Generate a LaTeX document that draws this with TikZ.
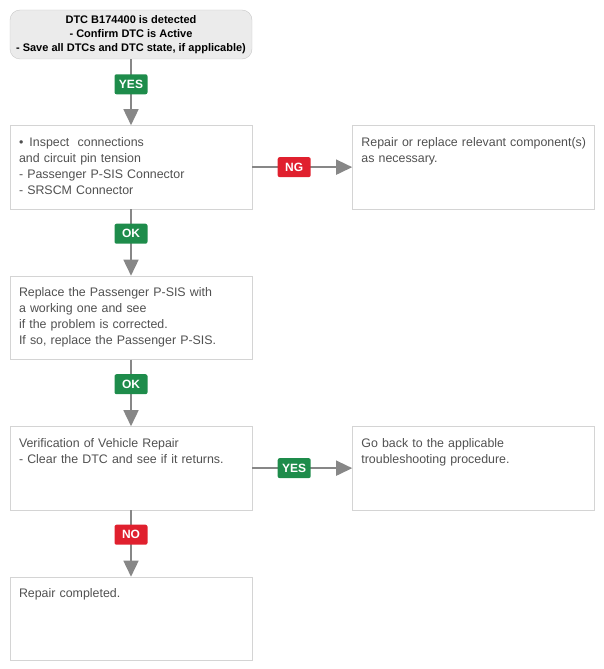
\documentclass[tikz,border=0pt]{standalone}
\usepackage{fontspec}
\setmainfont{Liberation Sans}
\usepackage{tikz}
\usetikzlibrary{positioning, arrows.meta}
\definecolor{startfill}{HTML}{EBEBEB}
\definecolor{startline}{HTML}{C8C8C8}
\definecolor{boxline}{HTML}{D4D4D4}
\definecolor{boxtext}{HTML}{505050}
\definecolor{arrowgray}{HTML}{878787}
\definecolor{passgreen}{HTML}{1E8C4B}
\definecolor{failred}{HTML}{E0202E}
\tikzstyle{startstop} = [rectangle, rounded corners=10pt, minimum width=242pt, minimum height=49pt, inner sep=0pt, align=center, fill=startfill, draw=startline, font=\bfseries\fontsize{11}{14}\selectfont]
\tikzstyle{process} = [rectangle, text width=224pt, inner xsep=9pt, inner ysep=5pt, text height=16pt, text depth=57.5pt, align=left, draw=boxline, text=boxtext, font=\fontsize{12.4}{16}\selectfont]
\tikzstyle{passtag} = [rectangle, rounded corners=2pt, fill=passgreen, text=white, minimum width=33pt, minimum height=20pt, inner sep=0pt, font=\bfseries\fontsize{12}{12}\selectfont]
\tikzstyle{failtag} = [passtag, fill=failred]
\tikzstyle{arrow} = [-{Triangle[length=16pt, width=15pt]}, draw=arrowgray, line width=1.6pt]

\begin{document}
\begin{tikzpicture}[node distance=67pt]
  \useasboundingbox (0,0) rectangle (604pt,-669pt);
  % boxes
  \node (start) [startstop] at (131pt,-34.5pt) {DTC B174400 is detected\\- Confirm DTC is Active\\- Save all DTCs and DTC state, if applicable)};
  \node (pro1) [process, below=66pt of start] {•\hspace{2pt} Inspect\ \ connections\\and circuit pin tension\\- Passenger P-SIS Connector\\- SRSCM Connector};
  \node (rep1) [process, right=100pt of pro1] {\mbox{Repair or replace relevant component(s)}\\as necessary.};
  \node (pro2) [process, below of=pro1, yshift=-83.5pt] {Replace the Passenger P-SIS with\\a working one and see\\if the problem is corrected.\\If so, replace the Passenger P-SIS.};
  \node (pro3) [process, below of=pro2, yshift=-83.5pt] {Verification of Vehicle Repair\\- Clear the DTC and see if it returns.};
  \node (back) [process, right=100pt of pro3] {Go back to the applicable\\troubleshooting procedure.};
  \node (stop) [process, below of=pro3, yshift=-83.5pt] {Repair completed.};

  % connectors
  \draw [arrow](start) -- node[passtag, pos=0.38] {YES} (pro1);
  \draw [arrow](pro1) -- node[failtag, pos=0.42] {NG} (rep1);
  \draw [arrow](pro1) -- node[passtag, pos=0.37] {OK} (pro2);
  \draw [arrow](pro2) -- node[passtag, pos=0.37] {OK} (pro3);
  \draw [arrow](pro3) -- node[passtag, pos=0.42] {YES} (back);
  \draw [arrow](pro3) -- node[failtag, pos=0.37] {NO} (stop);
\end{tikzpicture}
\end{document}
